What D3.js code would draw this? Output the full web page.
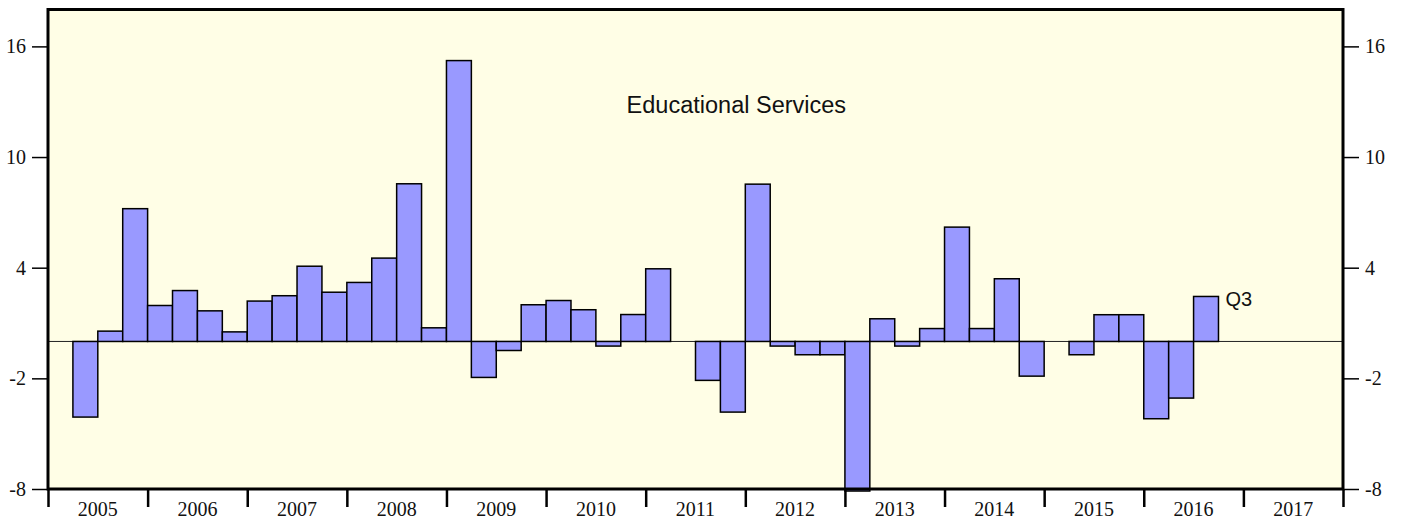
<!DOCTYPE html>
<html>
<head>
<meta charset="utf-8">
<script src="https://cdn.jsdelivr.net/npm/d3@7"></script>
<style>
  html, body { margin: 0; padding: 0; background: #ffffff; }
  svg { display: block; }
</style>
</head>
<body>
<svg id="chart" width="1403" height="523"></svg>
<script>
// ---- data ----
const years = [2005, 2006, 2007, 2008, 2009, 2010, 2011, 2012, 2013, 2014, 2015, 2016, 2017];
const quarters = [1, 2, 3, 4];
// quarterly values, 2005Q1 .. 2017Q4 (null = no bar)
const values2005 = [null, -4.1, 0.56, 7.2];
const values2006 = [1.95, 2.76, 1.66, 0.52];
const values2007 = [2.19, 2.48, 4.08, 2.67];
const values2008 = [3.2, 4.52, 8.55, 0.74];
const values2009 = [15.23, -1.95, -0.49, 1.99];
const values2010 = [2.22, 1.72, -0.25, 1.46];
const values2011 = [3.94, null, -2.11, -3.83];
const values2012 = [8.53, -0.25, -0.72, -0.72];
const values2013 = [-8.11, 1.23, -0.25, 0.7];
const values2014 = [6.2, 0.7, 3.4, -1.88];
const values2015 = [null, -0.72, 1.45, 1.45];
const values2016 = [-4.19, -3.07, 2.44, null];
const values2017 = [null, null, null, null];
const yTicks = [-8, -2, 4, 10, 16];
const yTickLabels = ["-8", "-2", "4", "10", "16"];
const title = "Educational Services";
const lastLabel = "Q3";

(function () {
const allValues = [values2005, values2006, values2007, values2008, values2009, values2010,
  values2011, values2012, values2013, values2014, values2015, values2016, values2017];

const data = [];
years.forEach((yr, i) => {
  quarters.forEach((q, j) => {
    const v = allValues[i][j];
    if (v !== null) data.push({ year: yr, q: q, value: v });
  });
});

// ---- layout ----
const mLeft = 48, mRight = 1343, mTop = 9.5, mBottom = 489;
const svg = d3.select("#chart");

const x = d3.scaleLinear().domain([2005, 2018]).range([mLeft, mRight]);
const y = d3.scaleLinear().domain([-8, 18]).range([mBottom, mTop]);

// background
svg.append("rect")
  .attr("x", mLeft).attr("y", mTop)
  .attr("width", mRight - mLeft).attr("height", mBottom - mTop)
  .attr("fill", "#fffee6");

// zero line
svg.append("line")
  .attr("x1", mLeft).attr("x2", mRight)
  .attr("y1", y(0)).attr("y2", y(0))
  .attr("stroke", "#222").attr("stroke-width", 1);

// bars
svg.append("g").selectAll("rect")
  .data(data).enter().append("rect")
  .attr("x", d => x(d.year + (d.q - 1) / 4))
  .attr("width", d => x(d.year + d.q / 4) - x(d.year + (d.q - 1) / 4))
  .attr("y", d => Math.min(y(d.value), y(0)))
  .attr("height", d => Math.abs(y(d.value) - y(0)))
  .attr("fill", "#9999ff")
  .attr("stroke", "#000")
  .attr("stroke-width", 1.5);

// frame
svg.append("rect")
  .attr("x", mLeft).attr("y", mTop)
  .attr("width", mRight - mLeft).attr("height", mBottom - mTop)
  .attr("fill", "none")
  .attr("stroke", "#000").attr("stroke-width", 3);

const serif = "'Liberation Serif', 'Times New Roman', serif";
const fmt = d => yTickLabels[yTicks.indexOf(d)];

// left axis
const leftAxis = d3.axisLeft(y).tickValues(yTicks).tickSize(16).tickPadding(6).tickFormat(fmt);
const gl = svg.append("g").attr("transform", `translate(${mLeft},0)`).call(leftAxis);
gl.select(".domain").remove();
gl.selectAll(".tick line").attr("stroke", "#000").attr("stroke-width", 1.5);
gl.selectAll(".tick text").attr("font-family", serif).attr("font-size", 20).attr("fill", "#111");

// right axis
const rightAxis = d3.axisRight(y).tickValues(yTicks).tickSize(16).tickPadding(6).tickFormat(fmt);
const gr = svg.append("g").attr("transform", `translate(${mRight},0)`).call(rightAxis);
gr.select(".domain").remove();
gr.selectAll(".tick line").attr("stroke", "#000").attr("stroke-width", 1.5);
gr.selectAll(".tick text").attr("font-family", serif).attr("font-size", 20).attr("fill", "#111");

// bottom axis: year boundary ticks
const bottomAxis = d3.axisBottom(x).tickValues(d3.range(2005, 2019)).tickSize(18).tickFormat("");
const gb = svg.append("g").attr("transform", `translate(0,${mBottom})`).call(bottomAxis);
gb.select(".domain").remove();
gb.selectAll(".tick line").attr("stroke", "#000").attr("stroke-width", 2.5);

// year labels, centred in each year
svg.append("g").selectAll("text")
  .data(years).enter().append("text")
  .attr("x", d => x(d + 0.5))
  .attr("y", 516)
  .attr("text-anchor", "middle")
  .attr("font-family", serif)
  .attr("font-size", 20)
  .attr("fill", "#111")
  .text(d => d);

// title
svg.append("text")
  .attr("x", x(2011.91))
  .attr("y", 113)
  .attr("text-anchor", "middle")
  .attr("font-family", "'Liberation Sans', Arial, sans-serif")
  .attr("font-size", 23.5)
  .attr("fill", "#111")
  .text(title);

// last-quarter label
const last = data[data.length - 1];
svg.append("text")
  .attr("x", x(last.year + last.q / 4) + 7)
  .attr("y", y(last.value) + 10)
  .attr("font-family", "'Liberation Sans', Arial, sans-serif")
  .attr("font-size", 20)
  .attr("fill", "#111")
  .text(lastLabel);
})();
</script>
</body>
</html>
